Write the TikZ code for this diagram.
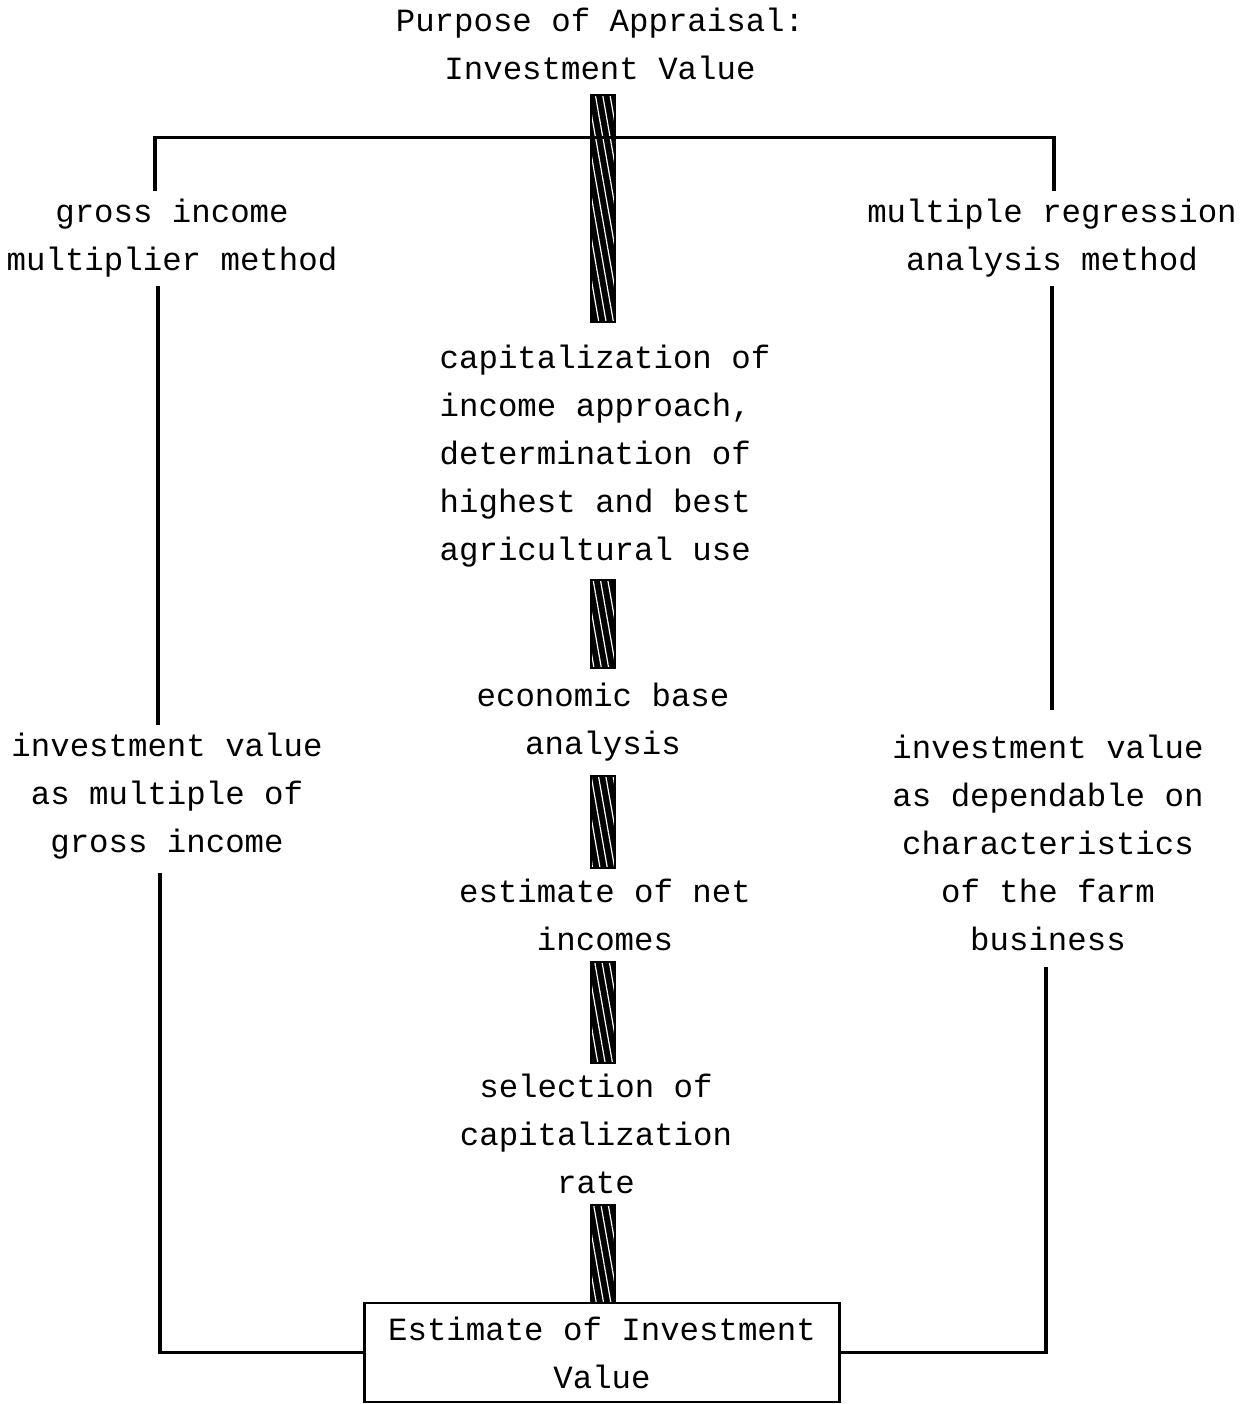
\documentclass[tikz,border=0pt]{standalone}
\usepackage{fontspec}
\setmonofont{Liberation Mono}
\usetikzlibrary{calc,positioning,patterns.meta}
\tikzset{
  txt/.style={font=\ttfamily\fontsize{16.2}{24}\selectfont, align=center, inner sep=4pt},
  conn/.style={line width=1.6pt},
  hatchbar/.style={draw, line width=1.4pt, minimum width=12pt, inner sep=0pt,
    preaction={fill=black},
    preaction={pattern={Lines[angle=100,distance=3.6pt,line width=0.6pt]}, pattern color=white}},
  estbox/.style={txt, draw, line width=1.4pt, minimum width=237.5pt, minimum height=49.5pt}
}

\begin{document}
\begin{tikzpicture}[x=0.5pt,y=-0.5pt]
\useasboundingbox (0,0) rectangle (1257,1404);

% titles and steps
\node[txt] (pur) at (600,44) {Purpose of Appraisal:\\Investment Value};
\node[txt] (gim) at (172,238) {gross income\\multiplier method};
\node[txt] (mra) at (1052,238) {multiple regression\\analysis method};
\node[txt, align=left] (cap) at (605,456) {capitalization of\\income approach,\\determination of\\highest and best\\agricultural use};
\node[txt] (ivg) at (167,796) {investment value\\as multiple of\\gross income};
\node[txt] (eba) at (603,722) {economic base\\analysis};
\node[txt] (ivd) at (1048,843) {investment value\\as dependable on\\characteristics\\of the farm\\business};
\node[txt] (eni) at (605,915) {estimate of net\\incomes};
\node[txt] (scr) at (596,1134) {selection of\\capitalization\\rate};

% hatched bars
\node[hatchbar, minimum height=113.5pt] (bar1) at (603,208.5) {};
\node[hatchbar, minimum height=44pt] (bar2) at (603,624) {};
\node[hatchbar, minimum height=46pt] (bar3) at (603,822) {};
\node[hatchbar, minimum height=50.5pt] (bar4) at (603,1012.5) {};
\node[hatchbar, minimum height=49pt] (bar5) at (603,1254) {};

\node[estbox] (est) at (602,1352.5) {Estimate of Investment\\Value};

% connectors
\draw[conn] ($(gim.north)+(-17,0)$) |- ($(bar1.north)+(0,44)$) -| ($(mra.north)+(2,0)$);
\draw[conn] ($(gim.south)+(-14,0)$) -- ($(ivg.north)+(-9,0)$);
\draw[conn] ($(ivg.south)+(-7,5)$) |- (est.west);
\draw[conn] (mra.south) -- ($(ivd.north)+(4,-17)$);
\draw[conn] ($(ivd.south)+(-2,8)$) |- (est.east);
\end{tikzpicture}
\end{document}
